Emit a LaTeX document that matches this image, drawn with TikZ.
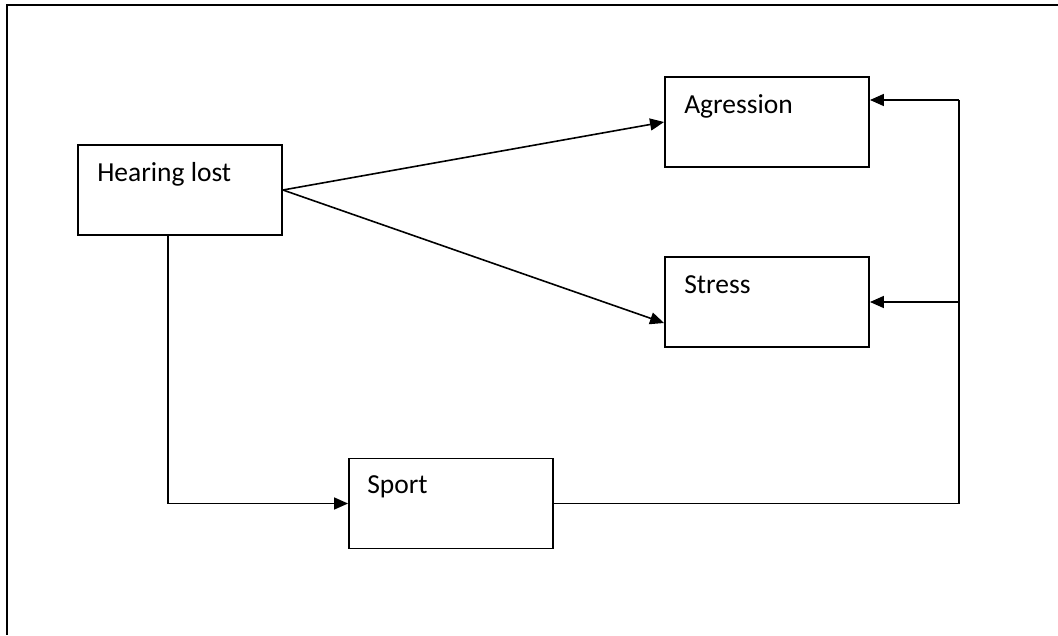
\documentclass[tikz,border=0pt]{standalone}
\usepackage{fontspec}
\setmainfont{Carlito}
\usetikzlibrary{arrows.meta,calc}

\tikzset{
	box/.style={draw, line width=1.9pt, minimum width=204pt, minimum height=90pt, inner sep=0pt},
	boxtext/.style={anchor=base west, inner sep=0pt, font=\fontsize{27.5}{32}\selectfont},
	conn/.style={line width=1.6pt},
	arr/.style={conn, -{Triangle[length=14pt,width=12pt]}}
}

\begin{document}
\begin{tikzpicture}[x=1pt,y=-1pt]
				%%%%% START %%%%%
				\def\tx{20}
				\def\ty{37}
				\useasboundingbox (0,0) rectangle (1058,635);
				
				% frame
				\draw[line width=2.4pt] (1058,5) -- (7,5) -- (7,635);
				
				% boxes
				\node[box] (hear) at (180,190) {};
				\node[box] (agr) at (767,122) {};
				\node[box] (stress) at (767,302) {};
				\node[box] (sport) at (451,503.5) {};
				
				\node[boxtext] (hearlbl) at ($(hear.north west)+(\tx,\ty)$) {Hearing lost};
				\node[boxtext] (agrlbl) at ($(agr.north west)+(\tx,\ty)$) {Agression};
				\node[boxtext] (stresslbl) at ($(stress.north west)+(\tx,\ty)$) {Stress};
				\node[boxtext] (sportlbl) at ($(sport.north west)+(19,36)$) {Sport};
				
				% bus on the right
				\coordinate (bus) at (959,100);
				
				% arrows
				\draw[arr] (hear.east) -- (agr.west);
				\draw[arr] (hear.east) -- ($(stress.west)+(0,21)$);
				\draw[arr] ($(hear.south)+(-12,0)$) |- (sport.west);
				\draw[conn] (sport.east) -- (sport.east -| bus) -- (bus);
				\draw[arr] (bus) -- (bus -| agr.east);
				\draw[arr] (bus |- stress.east) -- (stress.east);
				%%%%% END %%%%%
\end{tikzpicture}
\end{document}
